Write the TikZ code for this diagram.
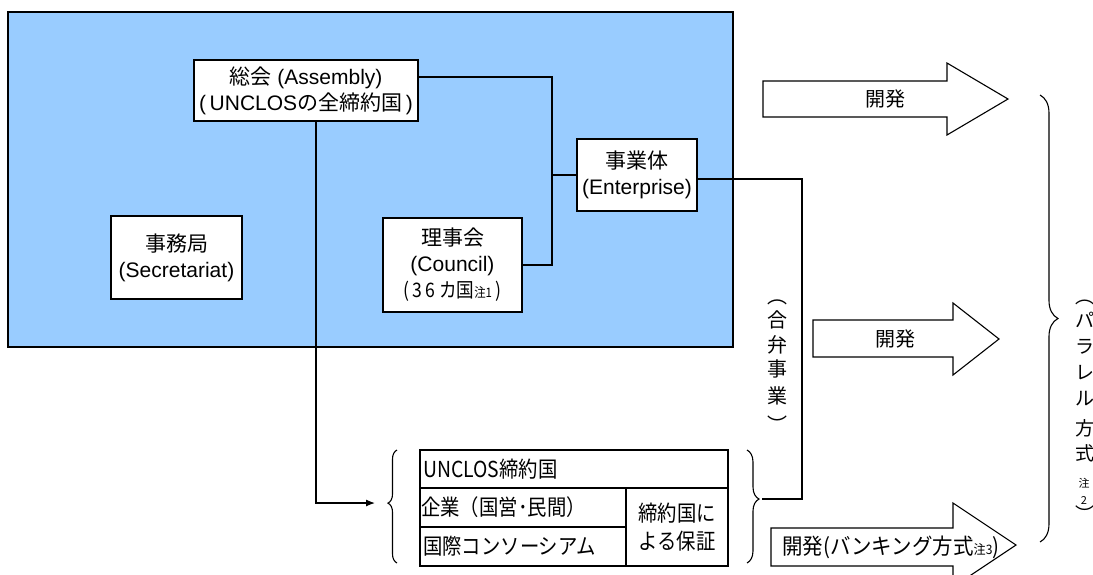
\documentclass[tikz,border=0pt]{standalone}
\usepackage{fontspec}
\setmainfont{Liberation Sans}
\newfontfamily\jp{Noto Sans CJK JP}
\newfontfamily\jpn[FakeStretch=0.88]{Noto Sans CJK JP}
\newfontfamily\jpm[FakeStretch=0.93]{Noto Sans CJK JP}
\usetikzlibrary{decorations.pathreplacing,arrows.meta,calc}
\definecolor{skyb}{HTML}{99CCFF}
\begin{document}
\begin{tikzpicture}[x=1pt,y=-1pt,
  box/.style={draw, line width=1.4pt, fill=white, inner sep=0pt, align=center, font=\fontsize{21}{26}\selectfont},
  conn/.style={line width=1.2pt},
  blk/.style={draw, line width=1.1pt, fill=white, line join=miter},
  lbl/.style={inner sep=0pt, font=\fontsize{20}{24}\selectfont\jp},
  brc/.style={decorate, line width=1.1pt},
  tbl/.style={line width=1.8pt},
  ttext/.style={inner sep=0pt, anchor=west, font=\fontsize{22}{28}\selectfont\jpn},
  vch/.style={inner sep=0pt, font=\fontsize{20}{20}\selectfont\jp},
  vchr/.style={inner sep=0pt, font=\fontsize{19}{19}\selectfont\jp},
  vchs/.style={inner sep=0pt, font=\fontsize{11}{11}\selectfont\jp},
]
\useasboundingbox (0,0) rectangle (1093,574);
\fill[white] (0,0) rectangle (1093,574);
\draw[fill=skyb, line width=2.6pt] (8,12) rectangle (733,347);

% organs
\node[box, minimum width=224pt, minimum height=61pt] (asm) at (306,90.5) {{\jp 総会} (Assembly)\\(\,UNCLOS{\jp の全締約国}\,)};
\node[box, minimum width=120pt, minimum height=72pt] (ent) at (637,175) {{\jp 事業体}\\(Enterprise)};
\node[box, minimum width=139pt, minimum height=94pt] (cou) at (452.5,265) {{\jp 理事会}\\(Council)\\{\jpn\fontsize{20}{26}\selectfont (\,3\,6\,カ国{\fontsize{13}{13}\selectfont 注1}\,)}};
\node[box, minimum width=131pt, minimum height=83pt] (sec) at (176.5,257.5) {{\jp 事務局}\\(Secretariat)};

% connectors
\coordinate (bus) at (552,77);
\coordinate (asmR) at ([yshift=13.5pt]asm.east);
\draw[conn] (asmR) -| (cou.east -| bus) -- (cou.east);
\draw[conn] (ent.west -| bus) -- (ent.west);
\coordinate (entR) at ([yshift=-4pt]ent.east);
\coordinate (jv) at (802,499);
\coordinate (rbtip) at (762,499);
\draw[conn] (entR) -| (jv) -- (rbtip);
\coordinate (asmB) at ([xshift=10pt]asm.south);
\coordinate (lbtip) at (375,503);
\draw[conn,-{Latex[length=9pt,width=7pt]}] (asmB) |- (lbtip);

% braces
\draw[brc, decoration={brace, amplitude=9pt, aspect=0.53}] (397,563) -- (397,450);
\draw[brc, decoration={brace, amplitude=12pt, aspect=0.434}] (747,450) -- (747,563);
\draw[brc, decoration={brace, amplitude=18pt, aspect=0.5}] (1040,95) -- (1040,542);

% table
\draw[tbl] (420,450) rectangle (728,566);
\draw[tbl] (420,488) -- (728,488);
\draw[tbl] (420,527) -- (626,527);
\draw[tbl] (626,488) -- (626,566);
\node[ttext] (t1) at (423,469) {UNCLOS締約国};
\node[ttext] (t2) at (421,507) {企業（国営･民間）};
\node[ttext] (t3) at (423,546) {国際コンソーシアム};
\node[ttext, anchor=center, align=center] (t4) at (677,527) {締約国に\\よる保証};

% block arrows
\draw[blk] (763,81) -- (947,81) -- (947,63) -- (1008,99) -- (947,135) -- (947,117) -- (763,117) -- cycle;
\node[lbl] (d1) at (885,99) {開発};
\draw[blk] (813,320) -- (953,320) -- (953,303) -- (999,339) -- (953,375) -- (953,357) -- (813,357) -- cycle;
\node[lbl] (d2) at (895,339) {開発};
\draw[blk] (771,528) -- (953,528) -- (953,503) -- (1016,545) -- (953,587) -- (953,566) -- (771,566) -- cycle;
\node[lbl, anchor=west, font=\fontsize{22}{24}\selectfont\jpm] (d3) at (782,547) {開発(バンキング方式{\fontsize{13}{13}\selectfont 注3})};

% vertical text (joint venture)
\foreach \c/\yy [count=\i] in {︵/302.5,合/320,弁/345,事/369,業/396,︶/424.5}
  \node[vch] (jvc\i) at (777,\yy) {\c};

% vertical text (parallel system), cut at the right edge as in the reference
\foreach \c/\yy [count=\i] in {︵/302,パ/320,ラ/347,レ/373,ル/399,方/428,式/453}
  \node[vchr] (prc\i) at (1084.5,\yy) {\c};
\node[vchs] (prn) at (1084,483) {注};
\node[vchs] (prd) at (1084,500) {2};
\node[vchr] (prz) at (1084.5,514) {︶};
\end{tikzpicture}
\end{document}
